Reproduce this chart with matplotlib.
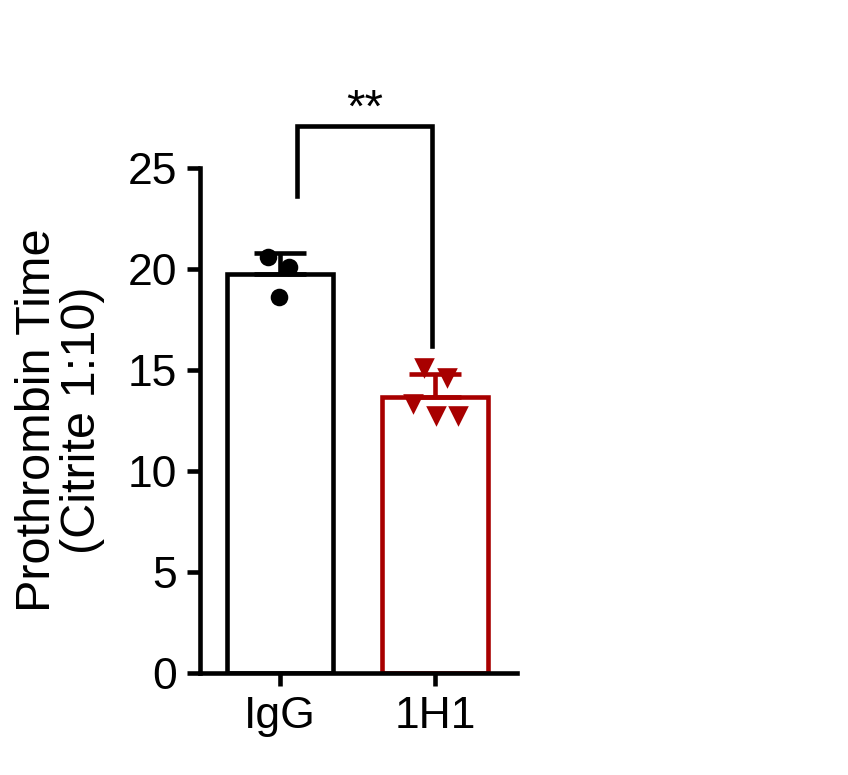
import numpy as np
import matplotlib
matplotlib.use("Agg")
import matplotlib.pyplot as plt

plt.rcParams['font.family'] = ['Liberation Sans', 'DejaVu Sans']

categories = ["IgG", "1H1"]
igg_values = [20.6, 20.1, 18.6]
h1_values = [15.1, 14.6, 13.3, 12.7, 12.7]
yticks = [0, 5, 10, 15, 20, 25]
colors = ["black", "#A80000"]
markers = ["o", "v"]
sig_label = "**"
ylabel = "Prothrombin Time\n(Citrite 1:10)"

groups = [igg_values, h1_values]
# point x-offsets (jitter)
offsets = [[-0.08, 0.06, -0.005], [-0.07, 0.08, -0.14, 0.01, 0.15]]

fig = plt.figure(figsize=(8.48, 7.75), dpi=100)
ax = fig.add_axes([0.2358, 0.1316, 0.3738, 0.6516])

lw = 3.3
for i, vals in enumerate(groups):
    m = np.mean(vals)
    sd = np.std(vals, ddof=1)
    ax.bar(i, m, width=0.68, facecolor="white", edgecolor=colors[i],
           linewidth=lw, zorder=2)
    ax.errorbar(i, m, yerr=[[0], [sd]], color=colors[i], elinewidth=lw,
                capsize=18.5, capthick=lw, zorder=3, fmt="none")
    ax.scatter(np.array(offsets[i]) + i, vals, marker=markers[i],
               s=160 if markers[i] == "o" else 220, color=colors[i],
               zorder=4, linewidths=0, clip_on=False)

ax.set_xlim(-0.516, 1.529)
ax.set_ylim(0, 25)
ax.set_yticks(yticks)
ax.set_xticks([0, 1])
ax.set_xticklabels(categories)
ax.tick_params(axis="both", direction="out", length=9.5, width=lw,
               labelsize=32, pad=7)
for s in ["top", "right"]:
    ax.spines[s].set_visible(False)
for s in ["left", "bottom"]:
    ax.spines[s].set_linewidth(lw)
ax.set_ylabel(ylabel, fontsize=35, labelpad=16, linespacing=1.0)

# significance bracket
xl, xr, ytop = 0.11, 0.98, 27.1
ax.plot([xl, xl, xr, xr], [23.6, ytop, ytop, 16.2], color="black",
        lw=lw, clip_on=False, solid_joinstyle="miter", zorder=5)
ax.text((xl + xr) / 2, 26.8, sig_label, ha="center", va="bottom",
        fontsize=34)

fig.savefig("out.png", dpi=100)
